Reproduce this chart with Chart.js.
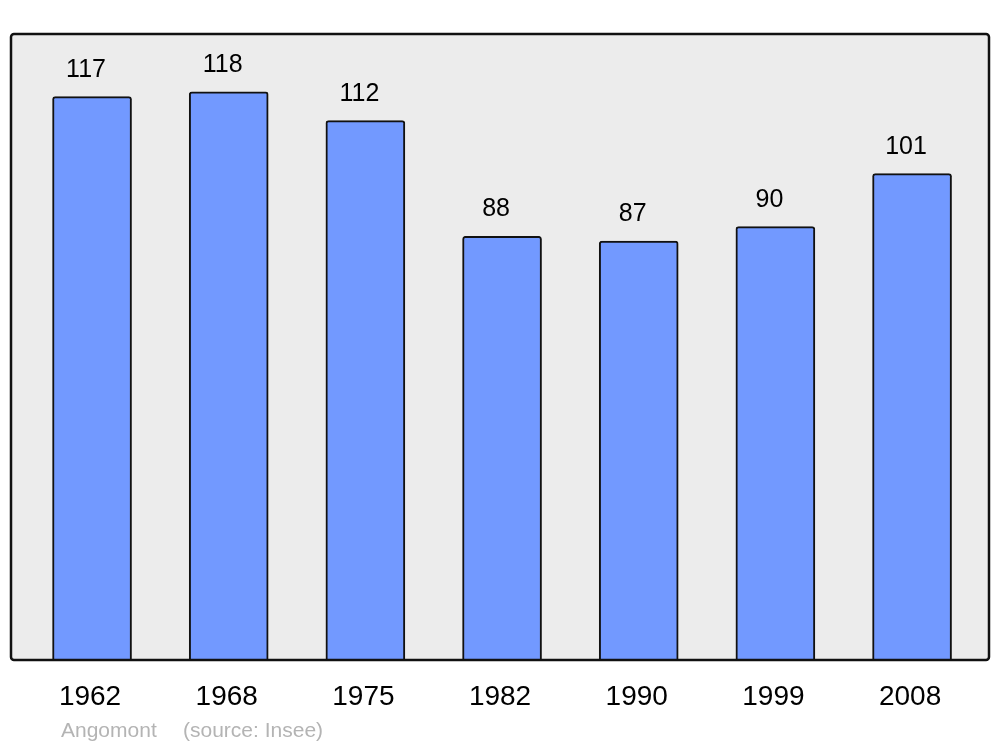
<!DOCTYPE html>
<html>
<head>
<meta charset="utf-8">
<script src="https://cdn.jsdelivr.net/npm/chart.js@4/dist/chart.umd.min.js"></script>
<style>
  html, body { margin: 0; padding: 0; background: #ffffff; }
  #wrap { width: 1000px; height: 747px; position: relative; }
</style>
</head>
<body>
<div id="wrap"><canvas id="population"></canvas></div>
<script>
// Données
const years = ['1962', '1968', '1975', '1982', '1990', '1999', '2008']
const population = [117, 118, 112, 88, 87, 90, 101]
const commune = 'Angomont'
const source = '(source: Insee)'

Chart.defaults.font.family = '"Liberation Sans", Arial, sans-serif'

// Cadre gris autour de la zone du graphique
const framePlugin = {
	id: 'frame',
	beforeDatasetsDraw(chart) {
		const a = chart.chartArea
		const ctx = chart.ctx
		ctx.save()
		ctx.fillStyle = '#ececec'
		ctx.beginPath()
		ctx.roundRect(a.left, a.top, a.right - a.left, a.bottom - a.top, 3)
		ctx.fill()
		ctx.restore()
	},
	afterDatasetsDraw(chart) {
		const a = chart.chartArea
		const ctx = chart.ctx
		ctx.save()
		ctx.strokeStyle = '#111111'
		ctx.lineWidth = 2.5
		ctx.beginPath()
		ctx.roundRect(a.left, a.top, a.right - a.left, a.bottom - a.top, 3)
		ctx.stroke()

		// valeurs au-dessus des barres
		ctx.fillStyle = '#000000'
		ctx.font = '25px "Liberation Sans", Arial, sans-serif'
		ctx.textAlign = 'center'
		ctx.textBaseline = 'alphabetic'
		chart.getDatasetMeta(0).data.forEach((bar, i) => {
			ctx.fillText(population[i], bar.x - 6, bar.y - 20)
		})

		// source
		ctx.fillStyle = '#b4b4b4'
		ctx.font = '21px "Liberation Sans", Arial, sans-serif'
		ctx.textAlign = 'left'
		ctx.fillText(commune, 61, 737)
		ctx.fillText(source, 183, 737)
		ctx.restore()
	}
}

const ctx = document.getElementById('population')
new Chart(ctx, {
	type: 'bar',
	data: {
		datasets: [{
			data: population.map((v, i) => ({ x: i, y: v })),
			backgroundColor: '#7299ff',
			borderColor: '#111111',
			borderWidth: 2,
			borderSkipped: 'bottom',
			borderRadius: { topLeft: 3, topRight: 3 },
			barThickness: 79
		}]
	},
	options: {
		responsive: true,
		maintainAspectRatio: false,
		animation: false,
		layout: { padding: { left: 11, right: 11, top: 34, bottom: 0 } },
		plugins: {
			legend: { display: false },
			tooltip: { enabled: false }
		},
		scales: {
			x: {
				type: 'linear',
				offset: false,
				min: -0.593,
				max: 6.563,
				border: { display: false },
				grid: { display: false, drawTicks: false, offset: false },
				afterBuildTicks: (scale) => {
					scale.ticks = years.map((y, i) => ({ value: i }))
				},
				afterFit: (scale) => { scale.height = 87 },
				ticks: {
					autoSkip: false,
					maxRotation: 0,
					padding: 20,
					labelOffset: -2,
					color: '#000000',
					font: { size: 28 },
					callback: (value) => years[value]
				}
			},
			y: {
				display: false,
				min: 0,
				max: 130
			}
		}
	},
	plugins: [framePlugin]
})
</script>
</body>
</html>
